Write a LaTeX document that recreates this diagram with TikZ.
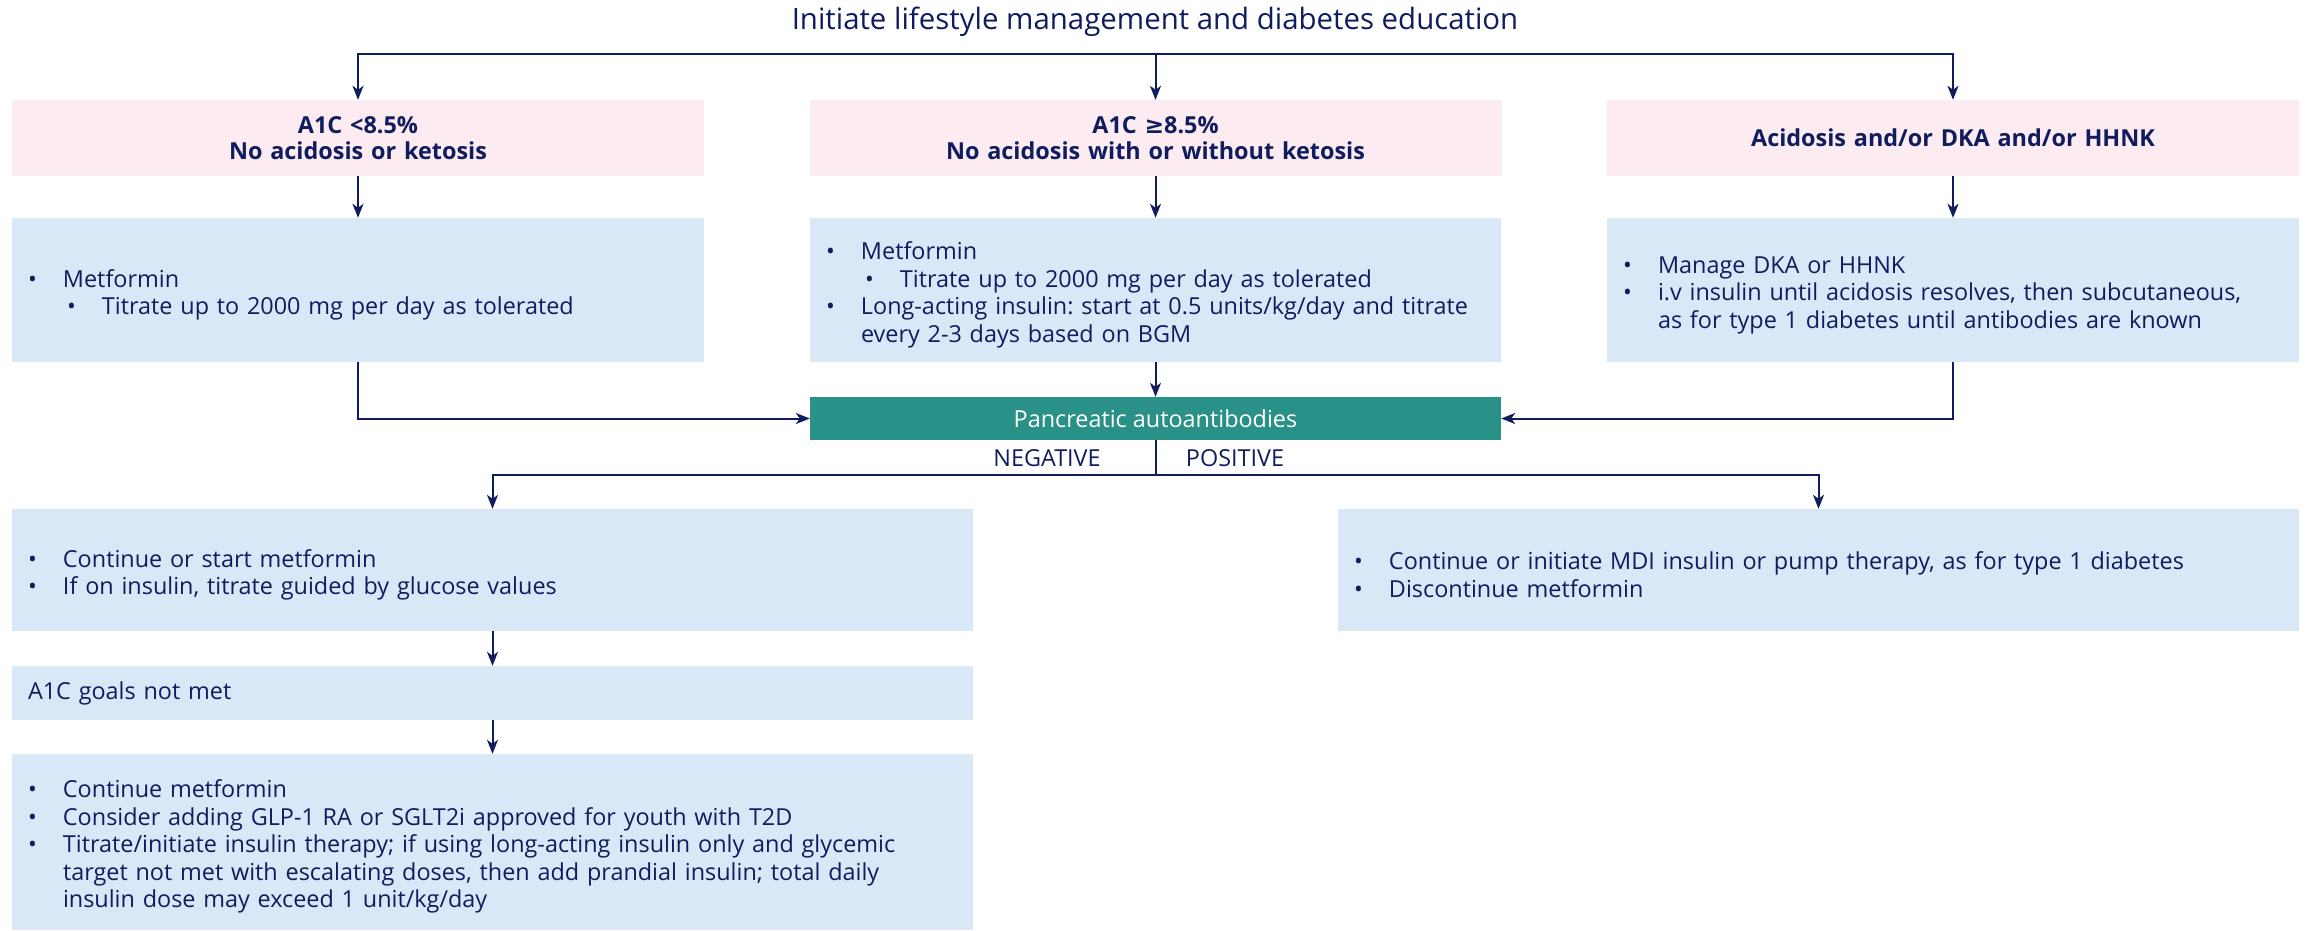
\documentclass[tikz,border=0pt]{standalone}
\usepackage{fontspec}
\setmainfont{Open Sans}
\newfontfamily\simboli{DejaVu Sans}
\usetikzlibrary{arrows.meta}
\frenchspacing

\definecolor{blu}{HTML}{0F1D5E}
\definecolor{rosa}{HTML}{FCEBF1}
\definecolor{celeste}{HTML}{D8E8F6}
\definecolor{verde}{HTML}{2A9188}

% punti elenco dentro i riquadri
\newcommand{\punto}[1]{\par\noindent\makebox[35pt][l]{\textbullet}#1}
\newcommand{\sotto}[1]{\par\noindent\hspace*{39pt}\makebox[35pt][l]{\textbullet}#1}
\newcommand{\cont}[1]{\par\noindent\hspace*{35pt}#1}

\begin{document}
\begin{tikzpicture}[x=1pt,y=-1pt,
    testo/.style={text=blu, font=\fontsize{23.4}{27.5}\selectfont},
    rosabox/.style={testo, fill=rosa, font=\fontsize{23.4}{26}\selectfont\bfseries, align=center, text width=660pt, inner xsep=16pt, minimum height=76pt},
    celbox/.style={testo, fill=celeste, align=left, inner xsep=16pt},
    linea/.style={draw=blu, line width=2pt},
    freccia/.style={linea, -{Stealth[length=14pt,width=11pt,inset=4pt]}}]
    \useasboundingbox (0,0) rectangle (2308,930);

    % Titolo
    \node[testo, font=\fontsize{29.4}{32}\selectfont] (titolo) at (1155,22) {Initiate lifestyle management and diabetes education};

    % Criteri iniziali
    \node[rosabox] (c1) at (358,138) {A1C <8.5\%\\No acidosis or ketosis};
    \node[rosabox] (c2) at (1155.5,138) {A1C {\simboli\bfseries ≥}8.5\%\\No acidosis with or without ketosis};
    \node[rosabox] (c3) at (1953,138) {Acidosis and/or DKA and/or HHNK};

    % Terapie iniziali
    \node[celbox, text width=660pt, minimum height=144pt] (t1) at (358,290) {%
        \punto{Metformin}\sotto{Titrate up to 2000 mg per day as tolerated}};
    \node[celbox, text width=659pt, minimum height=144pt] (t2) at (1155.5,290) {%
        \punto{Metformin}\sotto{Titrate up to 2000 mg per day as tolerated}%
        \punto{Long-acting insulin: start at 0.5 units/kg/day and titrate}\cont{every 2-3 days based on BGM}};
    \node[celbox, text width=660pt, minimum height=144pt] (t3) at (1953,290) {%
        \punto{Manage DKA or HHNK}%
        \punto{i.v insulin until acidosis resolves, then subcutaneous,}\cont{as for type 1 diabetes until antibodies are known}};

    % Autoanticorpi
    \node[fill=verde, text=white, font=\fontsize{23.4}{27}\selectfont, minimum width=691pt, minimum height=43pt, inner sep=0pt] (auto) at (1155.5,418.5) {Pancreatic autoantibodies};
    \node[testo] (lneg) at (1047,458) {NEGATIVE};
    \node[testo] (lpos) at (1235,458) {POSITIVE};

    % Ramo negativo e positivo
    \node[celbox, text width=929pt, minimum height=122pt] (negbox) at (492.5,570) {%
        \punto{Continue or start metformin}\punto{If on insulin, titrate guided by glucose values}};
    \node[celbox, text width=929pt, minimum height=54pt] (obiettivo) at (492.5,693) {A1C goals not met};
    \node[celbox, text width=929pt, minimum height=176pt] (finale) at (492.5,842) {%
        \punto{Continue metformin}%
        \punto{Consider adding GLP-1 RA or SGLT2i approved for youth with T2D}%
        \punto{Titrate/initiate insulin therapy; if using long-acting insulin only and glycemic}%
        \cont{target not met with escalating doses, then add prandial insulin; total daily}%
        \cont{insulin dose may exceed 1 unit/kg/day}};
    \node[celbox, text width=929pt, minimum height=122pt] (posbox) at (1818.5,570) {%
        \punto{Continue or initiate MDI insulin or pump therapy, as for type 1 diabetes}\punto{Discontinue metformin}};

    % Collegamenti
    \coordinate (snodo) at (1155.5,54);
    \coordinate (bivio) at (1155.5,475);
    \draw[freccia] (snodo) -| (c1.north);
    \draw[freccia] (snodo) -| (c3.north);
    \draw[freccia] (snodo) -- (c2.north);
    \foreach \i in {1,2,3} {
        \draw[freccia] (c\i.south) -- (t\i.north);
    }
    \draw[freccia] (t1.south) |- (auto.west);
    \draw[freccia] (t3.south) |- (auto.east);
    \draw[freccia] (t2.south) -- (auto.north);
    \draw[linea] (auto.south) -- (bivio);
    \draw[freccia] (bivio) -| (negbox.north);
    \draw[freccia] (bivio) -| (posbox.north);
    \draw[freccia] (negbox.south) -- (obiettivo.north);
    \draw[freccia] (obiettivo.south) -- (finale.north);
\end{tikzpicture}
\end{document}
